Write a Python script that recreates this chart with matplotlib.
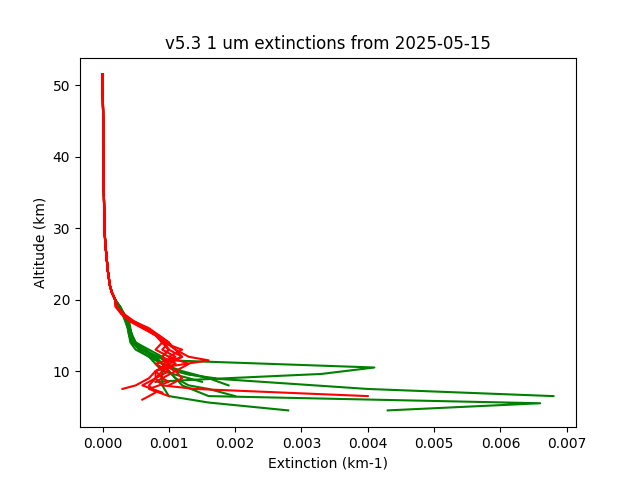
import matplotlib
matplotlib.use("Agg")
import matplotlib.pyplot as plt

# shared upper part of every profile (altitude km, extinction km-1)
upper_alt = [51.5, 48, 45, 42, 40, 37, 35, 32, 30, 28, 26, 24, 22, 21, 20]
upper_ext = [0.0, 0.000005, 0.00001, 0.00001, 0.000012, 0.000015, 0.00002, 0.000025,
             0.00003, 0.00004, 0.00006, 0.00008, 0.00011, 0.00014, 0.00019]

# lower parts, green profiles
green_alt = [
    [19, 18, 17, 16, 15, 14, 13, 12, 11.5, 10.5, 9.6, 8.8, 8.5],
    [19, 18, 17, 16, 15, 14, 13, 12, 11, 10, 9, 7.5, 6.5],
    [19, 18, 17, 16, 15, 14, 13, 12, 11, 10, 8, 6.5, 5.5, 4.5],
    [19, 18, 17, 16, 15, 14, 13, 12, 11, 10, 8, 6.5, 5.6, 4.5],
    [19, 18, 17, 16, 15, 14, 13, 12, 11, 10, 9, 8, 7.5, 6.5],
    [19, 18, 17, 16, 15, 14, 13, 12, 11, 10, 9, 8],
    [19, 18, 17, 16, 15, 14, 13, 12, 11, 10, 9.5, 9],
    [19, 18, 17, 16, 15, 14, 13, 12, 11, 10, 9.5, 8.5],
]
green_ext = [
    [0.00025, 0.0003, 0.00038, 0.0004, 0.00042, 0.00045, 0.0006, 0.0008, 0.0010, 0.0041, 0.0033, 0.0014, 0.0008],
    [0.00027, 0.00032, 0.00036, 0.0004, 0.0004, 0.00042, 0.0005, 0.0007, 0.0009, 0.0011, 0.0016, 0.0040, 0.0068],
    [0.00026, 0.00031, 0.00037, 0.00041, 0.00044, 0.00048, 0.0006, 0.0008, 0.0009, 0.001, 0.0012, 0.0016, 0.0066, 0.0043],
    [0.00024, 0.0003, 0.00035, 0.00038, 0.0004, 0.00045, 0.00055, 0.0007, 0.0008, 0.0009, 0.0009, 0.001, 0.0016, 0.0028],
    [0.00025, 0.00031, 0.00036, 0.00039, 0.00043, 0.00047, 0.0006, 0.00075, 0.0009, 0.001, 0.0011, 0.0013, 0.0016, 0.0020],
    [0.00026, 0.00033, 0.0004, 0.00042, 0.00044, 0.0005, 0.00065, 0.0008, 0.0009, 0.0012, 0.0016, 0.0019],
    [0.00025, 0.0003, 0.00037, 0.00041, 0.00045, 0.0005, 0.0007, 0.0009, 0.001, 0.0011, 0.0013, 0.0017],
    [0.00024, 0.0003, 0.00034, 0.00038, 0.0004, 0.00046, 0.0006, 0.00085, 0.001, 0.0009, 0.0011, 0.0015],
]

# lower parts, red profiles
red_alt = [
    [19, 18, 17, 16.5, 16, 15, 14, 13, 12, 11, 10, 9, 8, 7.5, 6.5],
    [19, 18, 17, 16.5, 16, 15, 14, 13, 12, 11, 10, 9, 8, 7, 6],
    [19, 18, 17, 16.5, 16, 15, 14, 13, 12, 11, 10, 9, 8, 7.5],
    [19, 18, 17, 16.5, 16, 15, 14, 13, 12, 11, 10, 9, 8.5],
    [19, 18, 17, 16.5, 16, 15, 14, 13, 12, 11, 10, 9, 8],
    [19, 18, 17, 16.5, 16, 15, 14, 13, 12, 11.5, 10.5],
    [19, 18, 17, 16.5, 16, 15, 14, 13, 12, 11, 10, 9, 8.5, 7.5, 6.5],
    [19, 18, 17, 16.5, 16, 15, 14, 13, 12, 11, 10, 9, 8, 7],
]
red_ext = [
    [0.0002, 0.00028, 0.0004, 0.0005, 0.0006, 0.0008, 0.0009, 0.0010, 0.0009, 0.0011, 0.0009, 0.0008, 0.0009, 0.0014, 0.0040],
    [0.00022, 0.0003, 0.00045, 0.00055, 0.00065, 0.00085, 0.001, 0.0009, 0.0011, 0.0008, 0.0010, 0.0008, 0.0007, 0.0008, 0.0006],
    [0.0002, 0.00029, 0.00042, 0.00052, 0.00062, 0.0008, 0.00095, 0.0011, 0.0012, 0.0010, 0.0008, 0.0007, 0.0005, 0.0003],
    [0.00021, 0.00031, 0.00046, 0.00056, 0.00066, 0.00082, 0.0009, 0.0012, 0.0010, 0.0013, 0.0011, 0.0009, 0.0008],
    [0.0002, 0.0003, 0.00044, 0.00054, 0.00064, 0.0008, 0.0009, 0.0010, 0.0012, 0.0009, 0.0011, 0.0012, 0.0010],
    [0.00022, 0.00032, 0.00047, 0.00058, 0.0007, 0.00085, 0.001, 0.0011, 0.0013, 0.0016, 0.0009],
    [0.0002, 0.0003, 0.00043, 0.00053, 0.00063, 0.00081, 0.00092, 0.001, 0.0009, 0.0010, 0.0008, 0.0009, 0.0010, 0.0007, 0.0010],
    [0.00021, 0.0003, 0.00045, 0.00055, 0.00066, 0.00083, 0.0009, 0.0008, 0.0010, 0.0011, 0.0008, 0.0008, 0.0006, 0.0009],
]

fig, ax = plt.subplots(figsize=(6.4, 4.8), dpi=100)
for alt, ext in zip(green_alt, green_ext):
    ax.plot(upper_ext + ext, upper_alt + alt, color="green")
for alt, ext in zip(red_alt, red_ext):
    ax.plot(upper_ext + ext, upper_alt + alt, color="red")
ax.set_xlabel("Extinction (km-1)")
ax.set_ylabel("Altitude (km)")
ax.set_title("v5.3 1 um extinctions from 2025-05-15")
fig.savefig("out.png")
